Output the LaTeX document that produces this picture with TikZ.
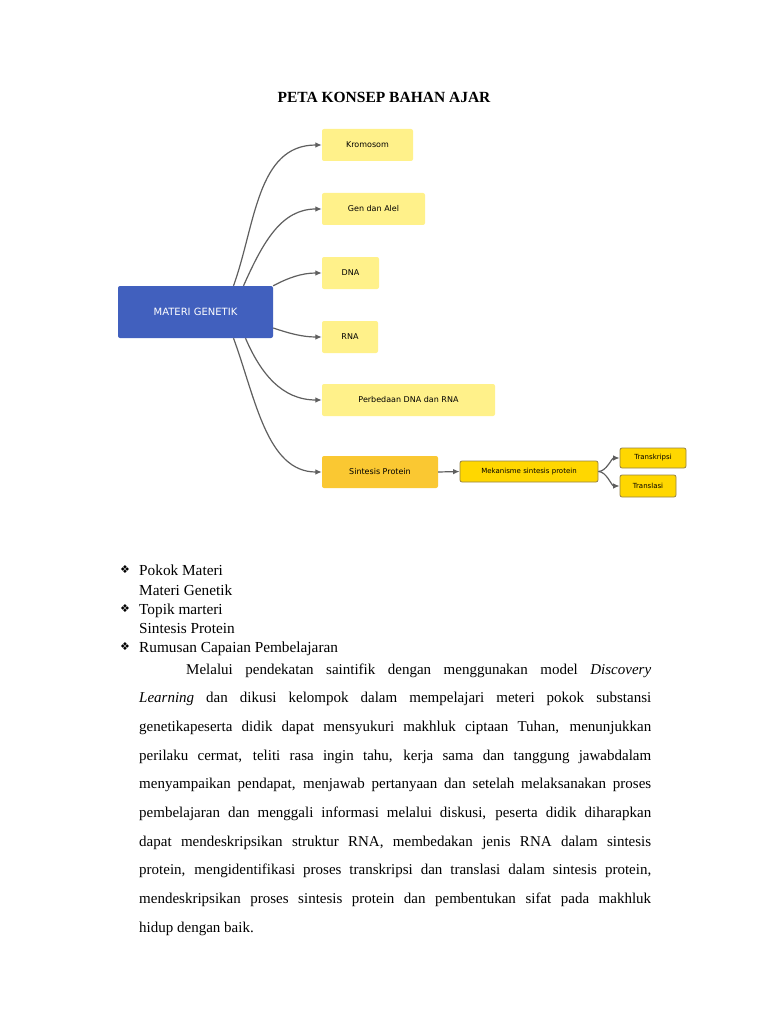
\documentclass[tikz,border=0pt]{standalone}
\usepackage{fontspec}
\setmainfont{Liberation Serif}
\newfontfamily\mapfont{DejaVu Sans}
\usetikzlibrary{arrows.meta}

\definecolor{rootblue}{RGB}{65,96,190}
\definecolor{paleyel}{RGB}{255,241,138}
\definecolor{deepyel}{RGB}{250,200,50}
\definecolor{goldyel}{RGB}{255,215,0}
\definecolor{goldline}{RGB}{150,130,70}
\definecolor{linkgray}{RGB}{95,95,95}

\begin{document}
\begin{tikzpicture}[x=1pt, y=-1pt,
						>={Latex[length=6.5pt,width=5.5pt]},
						root/.style={fill=rootblue, text=white, rounded corners=2pt, inner sep=0pt,
							font=\mapfont\fontsize{10}{12}\selectfont},
						topic/.style={fill=paleyel, rounded corners=2pt, inner sep=0pt, minimum height=32pt,
							font=\mapfont\fontsize{8}{9.6}\selectfont},
						subtopic/.style={fill=goldyel, draw=goldline, line width=0.8pt, rounded corners=2pt,
							inner sep=0pt, font=\mapfont\fontsize{7}{8.4}\selectfont},
						link/.style={->, draw=linkgray, line width=1.2pt},
						bulletmark/.style={font=\mapfont\fontsize{11}{13}\selectfont, inner sep=0pt},
						listline/.style={anchor=base west, inner sep=0pt, font=\fontsize{15.3}{18}\selectfont}]
					\fill[white] (0,0) rectangle (768,1024);
					\useasboundingbox (0,0) rectangle (768,1024);

					\node[font=\bfseries\fontsize{15.5}{18}\selectfont] (title) at (384,97) {PETA KONSEP BAHAN AJAR};

					% concept map
					\node[root, minimum width=155pt, minimum height=52pt] (MG) at (195.5,312) {MATERI GENETIK};
					\node[topic, minimum width=91pt] (KR) at (367.5,145) {Kromosom};
					\node[topic, minimum width=103pt] (GA) at (373.5,209) {Gen dan Alel};
					\node[topic, minimum width=57pt] (DNA) at (350.5,273) {DNA};
					\node[topic, minimum width=56pt] (RNA) at (350,337) {RNA};
					\node[topic, minimum width=173pt] (PB) at (408.5,400) {Perbedaan DNA dan RNA};
					\node[topic, fill=deepyel, minimum width=116pt] (SP) at (380,472) {Sintesis Protein};
					\node[subtopic, minimum width=138pt, minimum height=21pt] (MS) at (529,471.5) {Mekanisme sintesis protein};
					\node[subtopic, minimum width=66pt, minimum height=20pt] (TK) at (653,458) {Transkripsi};
					\node[subtopic, minimum width=56pt, minimum height=22pt] (TL) at (648,486) {Translasi};

					\path [link] ([xshift=38pt]MG.north) .. controls +(22,-61) and +(-65,0) .. (KR.west);
					\path [link] ([xshift=48pt]MG.north) .. controls +(20,-45) and +(-40,0) .. (GA.west);
					\path [link] (MG.north east) .. controls +(15,-8) and +(-20,0) .. (DNA.west);
					\path [link] ([yshift=-16pt]MG.east) .. controls +(15,5) and +(-20,0) .. (RNA.west);
					\path [link] ([xshift=50pt]MG.south) .. controls +(15,35) and +(-40,0) .. (PB.west);
					\path [link] ([xshift=38pt]MG.south) .. controls +(22,60) and +(-55,0) .. (SP.west);
					\path [link] (SP.east) -- (MS.west);
					\path [link] (MS.east) .. controls +(8,0) and +(-8,0) .. (TK.west);
					\path [link] (MS.east) .. controls +(8,0) and +(-8,0) .. (TL.west);

					% list
					\node[bulletmark] (b1) at (125,570) {❖};
					\node[listline] (l1) at (139,575) {Pokok Materi};
					\node[listline] (l2) at (139,595) {Materi Genetik};
					\node[bulletmark] (b2) at (125,609) {❖};
					\node[listline] (l3) at (139,614) {Topik marteri};
					\node[listline] (l4) at (139,633) {Sintesis Protein};
					\node[bulletmark] (b3) at (125,647) {❖};
					\node[listline] (l5) at (139,652) {Rumusan Capaian Pembelajaran};

					% paragraph
					\node[anchor=base west, inner sep=0pt, text width=512pt, align=justify,
						font=\fontsize{15}{28.67}\selectfont] (para) at (139,674) {%
						\hyphenpenalty=10000 \tolerance=10000
						\hspace*{47pt}Melalui pendekatan saintifik dengan menggunakan model \textit{Discovery}\linebreak
						\textit{Learning} dan dikusi kelompok dalam mempelajari meteri pokok substansi\linebreak
						genetikapeserta didik dapat mensyukuri makhluk ciptaan Tuhan, menunjukkan\linebreak
						perilaku cermat, teliti rasa ingin tahu, kerja sama dan tanggung jawabdalam\linebreak
						menyampaikan pendapat, menjawab pertanyaan dan setelah melaksanakan proses\linebreak
						pembelajaran dan menggali informasi melalui diskusi, peserta didik diharapkan\linebreak
						dapat mendeskripsikan struktur RNA, membedakan jenis RNA dalam sintesis\linebreak
						protein, mengidentifikasi proses transkripsi dan translasi dalam sintesis protein,\linebreak
						mendeskripsikan proses sintesis protein dan pembentukan sifat pada makhluk\linebreak
						hidup dengan baik.};
				\end{tikzpicture}
\end{document}
